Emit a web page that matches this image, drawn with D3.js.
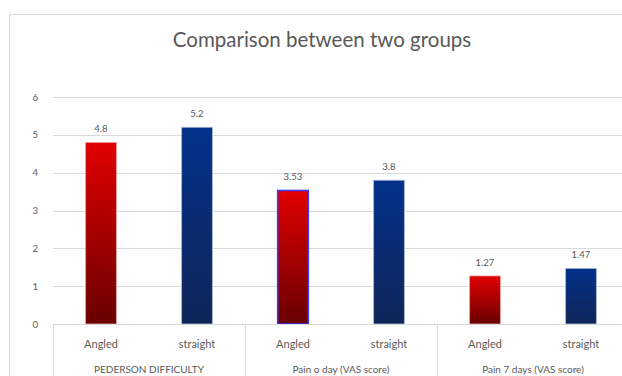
<!DOCTYPE html>
<html>
<head>
<meta charset="utf-8">
<script src="https://cdn.jsdelivr.net/npm/d3@7"></script>
<style>
  body { margin: 0; background: #fff; }
  svg { display: block; font-family: Lato, "Liberation Sans", sans-serif; }
</style>
</head>
<body>
<svg id="chart" width="622" height="376"></svg>
<script>
var groups = ["PEDERSON DIFFICULTY", "Pain o day (VAS score)", "Pain 7 days (VAS score)"];
var series = ["Angled", "straight"];
var angled = [4.8, 3.53, 1.27];
var straight = [5.2, 3.8, 1.47];
var yTicks = [0, 1, 2, 3, 4, 5, 6];

// flat table, one row per bar
var data = [];
groups.forEach(function (g, i) {
    data.push({ group: g, series: series[0], key: i + "a", value: angled[i] });
    data.push({ group: g, series: series[1], key: i + "s", value: straight[i] });
});

var svg = d3.select("#chart"),
    plotLeft = 53, plotRight = 629, plotTop = 97, plotBottom = 324;

var y = d3.scaleLinear().domain([0, 6]).range([plotBottom, plotTop]);
var xg = d3.scaleBand().domain(groups).range([plotLeft, plotRight]);
var x = d3.scaleBand()
    .domain(data.map(function (d) { return d.key; }))
    .range([plotLeft, plotRight])
    .paddingInner(0.68)
    .paddingOuter(0.34);

var defs = svg.append("defs");
function grad(id, c1, c2) {
    var lg = defs.append("linearGradient").attr("id", id)
        .attr("x1", 0).attr("y1", 0).attr("x2", 0).attr("y2", 1);
    lg.append("stop").attr("offset", "0%").attr("stop-color", c1);
    lg.append("stop").attr("offset", "100%").attr("stop-color", c2);
}
grad("gAngled", "#e20000", "#680000");
grad("gStraight", "#03318a", "#0f2558");

// chart border (cropped on right / bottom)
svg.append("rect")
    .attr("x", 9.5).attr("y", 14.5)
    .attr("width", 700).attr("height", 500)
    .attr("fill", "none")
    .attr("stroke", "#d9d9d9");

svg.append("text")
    .attr("x", 322).attr("y", 47)
    .attr("text-anchor", "middle")
    .attr("fill", "#595959")
    .style("font-size", "20.5px")
    .text("Comparison between two groups");

// gridlines
svg.append("g")
    .selectAll("line")
    .data(yTicks.filter(function (t) { return t > 0; }))
    .enter().append("line")
    .attr("x1", plotLeft).attr("x2", plotRight)
    .attr("y1", function (d) { return Math.round(y(d)) + 0.5; })
    .attr("y2", function (d) { return Math.round(y(d)) + 0.5; })
    .attr("stroke", "#d9d9d9");

// y axis labels
var yAxis = svg.append("g")
    .attr("transform", "translate(" + (plotLeft - 15) + ",0)")
    .call(d3.axisLeft(y).tickValues(yTicks).tickFormat(d3.format("d")).tickSize(0).tickPadding(0));
yAxis.select(".domain").remove();
yAxis.selectAll("text")
    .attr("fill", "#595959")
    .style("font-size", "9.5px")
    .style("font-family", "Lato, 'Liberation Sans', sans-serif");

// bars
svg.append("g")
    .selectAll("rect")
    .data(data)
    .enter().append("rect")
    .attr("x", function (d) { return x(d.key); })
    .attr("y", function (d) { return y(d.value); })
    .attr("width", x.bandwidth())
    .attr("height", function (d) { return y(0) - y(d.value); })
    .attr("fill", function (d) { return d.series === "Angled" ? "url(#gAngled)" : "url(#gStraight)"; })
    .attr("stroke", function (d) {
        if (d.key === "1a") return "#3a3aff";
        return d.series === "Angled" ? "#e8a0a0" : "#a9b8d8";
    })
    .attr("stroke-width", function (d) { return d.key === "1a" ? 1.5 : 0.8; });

// value labels
svg.append("g")
    .selectAll("text")
    .data(data)
    .enter().append("text")
    .attr("x", function (d) { return x(d.key) + x.bandwidth() / 2; })
    .attr("y", function (d) { return y(d.value) - 10; })
    .attr("text-anchor", "middle")
    .attr("fill", "#595959")
    .style("font-size", "9.5px")
    .text(function (d) { return d.value; });

// category axis line and separators
svg.append("line")
    .attr("x1", plotLeft).attr("x2", plotRight)
    .attr("y1", plotBottom + 0.5).attr("y2", plotBottom + 0.5)
    .attr("stroke", "#d9d9d9");

svg.append("g")
    .selectAll("line")
    .data(groups)
    .enter().append("line")
    .attr("x1", function (d) { return Math.round(xg(d)) + 0.5; })
    .attr("x2", function (d) { return Math.round(xg(d)) + 0.5; })
    .attr("y1", plotBottom).attr("y2", 380)
    .attr("stroke", "#d9d9d9");

svg.append("g")
    .selectAll("text")
    .data(data)
    .enter().append("text")
    .attr("x", function (d) { return x(d.key) + x.bandwidth() / 2; })
    .attr("y", 348)
    .attr("text-anchor", "middle")
    .attr("fill", "#595959")
    .style("font-size", "11px")
    .text(function (d) { return d.series; });

svg.append("g")
    .selectAll("text")
    .data(groups)
    .enter().append("text")
    .attr("x", function (d) { return xg(d) + xg.bandwidth() / 2; })
    .attr("y", 373)
    .attr("text-anchor", "middle")
    .attr("fill", "#595959")
    .style("font-size", "10px")
    .text(function (d) { return d; });
</script>
</body>
</html>
